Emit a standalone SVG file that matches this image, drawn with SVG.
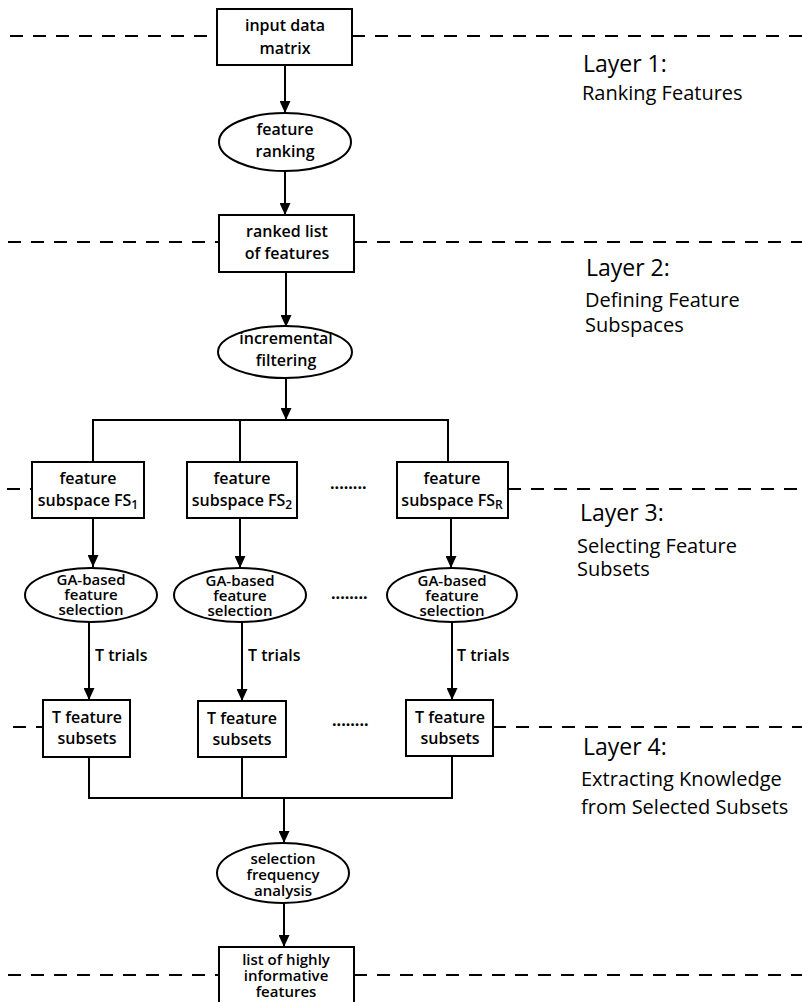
<svg xmlns="http://www.w3.org/2000/svg" width="802" height="1002" viewBox="0 0 802 1002">
<style>
.nd{fill:#fff;stroke:#000;stroke-width:2}
.t{font-family:"Open Sans","Liberation Sans",sans-serif;font-weight:600;font-size:16px;fill:#000;text-anchor:middle}
.t3{font-family:"Open Sans","Liberation Sans",sans-serif;font-weight:600;font-size:15px;fill:#000;text-anchor:middle}
.tl{font-family:"Open Sans","Liberation Sans",sans-serif;font-weight:600;font-size:16px;fill:#000}
.lh{font-family:"Open Sans","Liberation Sans",sans-serif;font-weight:500;font-size:23px;fill:#000}
.ld{font-family:"Open Sans","Liberation Sans",sans-serif;font-weight:500;font-size:20px;fill:#000}
.dash{stroke:#000;stroke-width:2;stroke-dasharray:13 10;fill:none}
.c{stroke:#000;stroke-width:2;fill:none}
.a{stroke:#000;stroke-width:2;fill:none;marker-end:url(#ah)}
.dots{font-family:"Open Sans","Liberation Sans",sans-serif;font-weight:700;font-size:16px;fill:#000}
</style>
<defs>
<marker id="ah" markerUnits="userSpaceOnUse" markerWidth="12" markerHeight="11" refX="12" refY="5.5" orient="auto">
<path d="M0,0 L12,5.5 L0,11 z" fill="#000"/>
</marker>
</defs>
<rect width="802" height="1002" fill="#fff"/>
<g id="layers">
<line class="dash" x1="10" y1="36" x2="217" y2="36"/>
<line class="dash" x1="352" y1="36" x2="802" y2="36"/>
<line class="dash" x1="8" y1="242" x2="219" y2="242"/>
<line class="dash" x1="354" y1="242" x2="802" y2="242"/>
<line class="dash" x1="7" y1="489" x2="32" y2="489"/>
<line class="dash" x1="508" y1="489" x2="802" y2="489"/>
<line class="dash" x1="13" y1="727" x2="43" y2="727"/>
<line class="dash" x1="493" y1="727" x2="802" y2="727"/>
<line class="dash" x1="8" y1="975" x2="219" y2="975"/>
<line class="dash" x1="354" y1="975" x2="802" y2="975"/>
<text class="lh" x="583" y="72">Layer 1:</text>
<text class="ld" x="582" y="100">Ranking Features</text>
<text class="lh" x="586" y="276">Layer 2:</text>
<text class="ld" x="585" y="307">Defining Feature</text>
<text class="ld" x="585" y="332">Subspaces</text>
<text class="lh" x="580" y="521">Layer 3:</text>
<text class="ld" x="577" y="553">Selecting Feature</text>
<text class="ld" x="577" y="576">Subsets</text>
<text class="lh" x="583" y="755">Layer 4:</text>
<text class="ld" x="581" y="786">Extracting Knowledge</text>
<text class="ld" x="581" y="814">from Selected Subsets</text>
</g>
<g id="connectors">
<line class="a" x1="285" y1="65" x2="285" y2="113"/>
<line class="a" x1="285" y1="172" x2="285" y2="215"/>
<line class="a" x1="286" y1="272" x2="286" y2="327"/>
<line class="a" x1="286" y1="378" x2="286" y2="420"/>
<polyline class="c" points="93,462 93,420 448,420 448,462"/>
<line class="c" x1="240" y1="420" x2="240" y2="462"/>
<line class="a" x1="93" y1="518" x2="93" y2="567"/>
<line class="a" x1="240" y1="518" x2="240" y2="568"/>
<line class="a" x1="451" y1="518" x2="451" y2="568"/>
<line class="a" x1="89" y1="622" x2="89" y2="700"/>
<line class="a" x1="242" y1="622" x2="242" y2="701"/>
<line class="a" x1="452" y1="622" x2="452" y2="700"/>
<text class="tl" x="95" y="661">T trials</text>
<text class="tl" x="248" y="661">T trials</text>
<text class="tl" x="457" y="661">T trials</text>
<polyline class="c" points="89,757 89,798 452,798 452,756"/>
<line class="c" x1="242" y1="757" x2="242" y2="798"/>
<line class="a" x1="284" y1="798" x2="284" y2="843"/>
<line class="a" x1="284" y1="903" x2="284" y2="947"/>
</g>
<g id="n1"><rect class="nd" x="217" y="9" width="135" height="56"/>
<text class="t" x="285" y="31">input data<tspan x="285" dy="23">matrix</tspan></text></g>
<g id="n2"><ellipse class="nd" cx="285" cy="142" rx="66" ry="29"/>
<text class="t" x="285" y="135">feature<tspan x="285" dy="22">ranking</tspan></text></g>
<g id="n3"><rect class="nd" x="219" y="215" width="135" height="57"/>
<text class="t" x="287" y="237">ranked list<tspan x="287" dy="22">of features</tspan></text></g>
<g id="n4"><ellipse class="nd" cx="285" cy="352" rx="67" ry="26"/>
<text class="t" x="286" y="344">incremental<tspan x="286" dy="22">filtering</tspan></text></g>
<g id="fs1"><rect class="nd" x="32" y="462" width="112" height="56"/>
<text class="t" x="88" y="484">feature<tspan x="88" dy="22">subspace FS</tspan><tspan font-size="12" dy="3">1</tspan></text></g>
<g id="fs2"><rect class="nd" x="187" y="462" width="110" height="56"/>
<text class="t" x="242" y="484">feature<tspan x="242" dy="22">subspace FS</tspan><tspan font-size="12" dy="3">2</tspan></text></g>
<g id="fsR"><rect class="nd" x="397" y="462" width="111" height="56"/>
<text class="t" x="452" y="484">feature<tspan x="452" dy="22">subspace FS</tspan><tspan font-size="12" dy="3">R</tspan></text></g>
<text class="dots" x="330" y="489">........</text>
<g id="ga1"><ellipse class="nd" cx="91" cy="595" rx="66" ry="27"/>
<text class="t3" x="91" y="585">GA-based<tspan x="91" dy="15">feature</tspan><tspan x="91" dy="15">selection</tspan></text></g>
<g id="ga2"><ellipse class="nd" cx="240" cy="595" rx="66" ry="27"/>
<text class="t3" x="240" y="586">GA-based<tspan x="240" dy="15">feature</tspan><tspan x="240" dy="15">selection</tspan></text></g>
<g id="gaR"><ellipse class="nd" cx="452" cy="595" rx="65" ry="27"/>
<text class="t3" x="452" y="586">GA-based<tspan x="452" dy="15">feature</tspan><tspan x="452" dy="15">selection</tspan></text></g>
<text class="dots" x="331" y="599">........</text>
<g id="ts1"><rect class="nd" x="43" y="700" width="87" height="57"/>
<text class="t" x="87" y="723">T feature<tspan x="87" dy="21">subsets</tspan></text></g>
<g id="ts2"><rect class="nd" x="198" y="701" width="88" height="56"/>
<text class="t" x="242" y="724">T feature<tspan x="242" dy="21">subsets</tspan></text></g>
<g id="tsR"><rect class="nd" x="406" y="700" width="87" height="56"/>
<text class="t" x="450" y="723">T feature<tspan x="450" dy="21">subsets</tspan></text></g>
<text class="dots" x="332" y="726">........</text>
<g id="sfa"><ellipse class="nd" cx="283" cy="873" rx="66" ry="30"/>
<text class="t3" x="283" y="864">selection<tspan x="283" dy="16">frequency</tspan><tspan x="283" dy="16">analysis</tspan></text></g>
<g id="out"><rect class="nd" x="219" y="947" width="135" height="60"/>
<text class="t3" x="286" y="965">list of highly<tspan x="286" dy="16">informative</tspan><tspan x="286" dy="16">features</tspan></text></g>
</svg>
